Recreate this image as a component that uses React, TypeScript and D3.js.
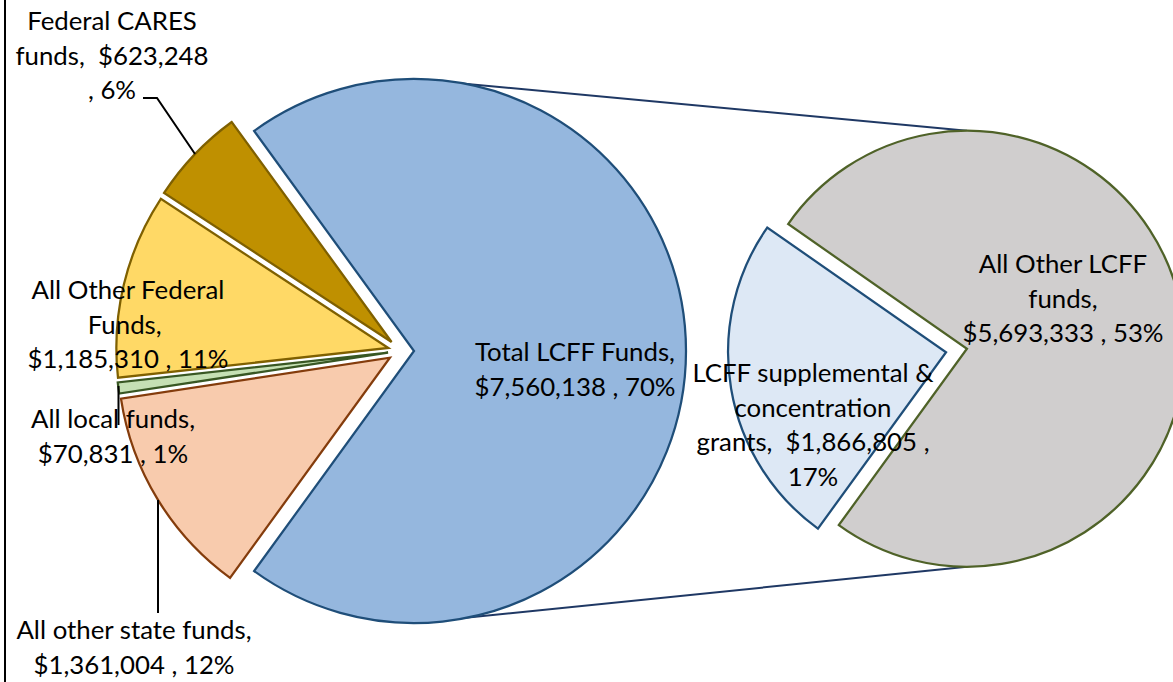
import React from "react";
import * as d3 from "d3";

// main pie (order: clockwise starting from the exploded LCFF slice)
const categories = [
  "Total LCFF Funds",
  "All other state funds",
  "All local funds",
  "All Other Federal Funds",
  "Federal CARES funds",
];
const amounts = [7560138, 1361004, 70831, 1185310, 623248];
const percents = ["70%", "12%", "1%", "11%", "6%"];

// breakdown of the LCFF slice
const subCategories = ["LCFF supplemental & concentration grants", "All Other LCFF funds"];
const subAmounts = [1866805, 5693333];
const subPercents = ["17%", "53%"];

const fills = ["#95B7DE", "#F8CBAD", "#C5E0B4", "#FFD966", "#BF9000"];
const strokes = ["#1F4E79", "#843C0C", "#385723", "#7F6000", "#7F6000"];
const subFills = ["#DDE8F5", "#D0CECE"];
const subStrokes = ["#1F4E79", "#4F6228"];

const fmt = d3.format("$,");

const W = 1173;
const H = 682;
const FONT = "Lato, 'Open Sans', sans-serif";
const FS = 25.8;

const App = () => {
  // main pie geometry
  const cx = 401;
  const cy = 351;
  const r = 272;
  const explode = 13;

  const total = d3.sum(amounts);
  const blueAngle = (2 * Math.PI * amounts[0]) / total;
  const start = Math.PI / 2 - blueAngle / 2;

  const pie = d3
    .pie<number>()
    .sort(null)
    .value((d) => d)
    .startAngle(start)
    .endAngle(start + 2 * Math.PI);
  const arcs = pie(amounts);
  const arcGen = d3.arc<d3.PieArcDatum<number>>().innerRadius(0).outerRadius(r);

  const offset = (a: any, e: number) => {
    const m = (a.startAngle + a.endAngle) / 2;
    return [Math.sin(m) * e, -Math.cos(m) * e];
  };

  // second pie geometry
  const cx2 = 956.5;
  const cy2 = 350.5;
  const r2 = 218;
  const explode2 = 10.6;
  const subStart = (216 * Math.PI) / 180;
  const subPie = d3
    .pie<number>()
    .sort(null)
    .value((d) => d)
    .startAngle(subStart)
    .endAngle(subStart + 2 * Math.PI);
  const subArcs = subPie(subAmounts);
  const subArcGen = d3.arc<d3.PieArcDatum<number>>().innerRadius(0).outerRadius(r2);

  // connector lines: top / bottom of exploded slice -> top / bottom of second pie
  const [bx, by] = offset(arcs[0], explode);
  const [gx, gy] = offset(subArcs[1], explode2);
  const connTop = [cx + bx, cy + by - r, cx2 + gx, cy2 + gy - r2];
  const connBot = [cx + bx, cy + by + r, cx2 + gx, cy2 + gy + r2];

  // label text
  const labels = [
    { x: 575, y: 361, lines: [`${categories[0]},`, `${fmt(amounts[0])} , ${percents[0]}`] },
    { x: 134, y: 639, lines: ["All other state funds,", `${fmt(amounts[1])} , ${percents[1]}`] },
    { x: 113, y: 428, lines: ["All local funds,", `${fmt(amounts[2])} , ${percents[2]}`] },
    { x: 128, y: 299, lines: ["All Other Federal", "Funds, ", `${fmt(amounts[3])} , ${percents[3]}`] },
    { x: 112, y: 30, lines: ["Federal CARES", `funds,  ${fmt(amounts[4])}`, `, ${percents[4]}`] },
  ];
  const subLabels = [
    {
      x: 813,
      y: 382,
      lines: ["LCFF supplemental &", "concentration", `grants,  ${fmt(subAmounts[0])} ,`, subPercents[0]],
    },
    { x: 1063, y: 273, lines: ["All Other LCFF", "funds,", `${fmt(subAmounts[1])} , ${subPercents[1]}`] },
  ];
  const lh = 34.5;

  return (
    <svg
      width={W}
      height={H}
      style={{ position: "absolute", left: 0, top: 0, background: "#fff" }}
      fontFamily={FONT}
      fontSize={FS}
    >
      <rect x={0} y={0} width={W} height={H} fill="#fff" />
      <line x1={5} x2={5} y1={0} y2={H} stroke="#000" strokeWidth={2} />

      {/* connectors */}
      <line x1={connTop[0]} y1={connTop[1]} x2={connTop[2]} y2={connTop[3]} stroke="#1F3864" strokeWidth={2} />
      <line x1={connBot[0]} y1={connBot[1]} x2={connBot[2]} y2={connBot[3]} stroke="#1F3864" strokeWidth={2} />

      {/* main pie */}
      {arcs.map((a, i) => {
        const [dx, dy] = offset(a, explode);
        return (
          <path
            key={categories[i]}
            d={arcGen(a) || ""}
            transform={`translate(${cx + dx},${cy + dy})`}
            fill={fills[i]}
            stroke={strokes[i]}
            strokeWidth={2.25}
          />
        );
      })}

      {/* second pie */}
      {subArcs.map((a, i) => {
        const [dx, dy] = offset(a, explode2);
        return (
          <path
            key={subCategories[i]}
            d={subArcGen(a) || ""}
            transform={`translate(${cx2 + dx},${cy2 + dy})`}
            fill={subFills[i]}
            stroke={subStrokes[i]}
            strokeWidth={2.25}
          />
        );
      })}

      {/* leader lines */}
      <polyline points="143,98 157,98 195,154" fill="none" stroke="#000" strokeWidth={2} />
      <line x1={118.5} x2={118.5} y1={386} y2={425} stroke="#000" strokeWidth={2} />
      <line x1={158} x2={158} y1={500} y2={613} stroke="#000" strokeWidth={2} />

      {/* labels */}
      {[...labels, ...subLabels].map((l, i) => (
        <text key={i} x={l.x} y={l.y} textAnchor="middle" fill="#000">
          {l.lines.map((t, j) => (
            <tspan key={j} x={l.x} y={l.y + j * lh} style={{ whiteSpace: "pre" }}>
              {t}
            </tspan>
          ))}
        </text>
      ))}
    </svg>
  );
};

export default App;
